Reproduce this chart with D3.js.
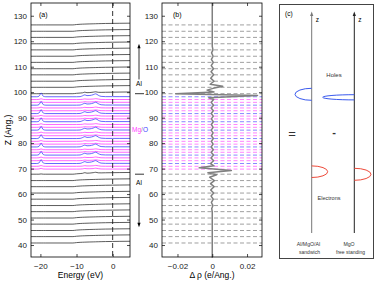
<!DOCTYPE html>
<html>
<head>
<meta charset="utf-8">
<script src="https://cdn.jsdelivr.net/npm/d3@7"></script>
<style>
body { margin: 0; background: #fff; }
text { font-family: "Liberation Sans", Arial, sans-serif; }
</style>
</head>
<body>
<svg id="chart" width="374" height="282"></svg>
<script>
// layer positions along z (Ang.)
var alTopZ = [126.4, 123.9, 121.5, 119.0, 116.6, 114.1, 111.7, 109.2, 106.8, 104.3, 101.9, 99.4]
var alBotZ = [67.8, 65.3, 62.9, 60.4, 58.0, 55.5, 53.1, 50.6, 48.2, 45.7, 43.3, 40.8]
var mgoZ = [98.2, 97.1, 96.0, 94.9, 93.8, 92.7, 91.6, 90.6, 89.5, 88.4, 87.3, 86.2, 85.1, 84.0,
  82.9, 81.8, 80.7, 79.6, 78.5, 77.4, 76.4, 75.3, 74.2, 73.1, 72.0, 70.9, 69.8]
var mgoSpecies = ["O","Mg","Mg","O","Mg","Mg","O","Mg","Mg","O","Mg","Mg","O","Mg","Mg",
  "O","Mg","Mg","O","Mg","Mg","O","Mg","Mg","O","Mg","Mg"]

// projected DOS, sampled on an energy grid (eV), height in Ang. of the plot
var dosE    = [-22.6, -21, -20.4, -19.8, -19.2, -18.5, -11, -10, -9, -8.3, -7.7, -7.1, -6.3, -5.4, -4.7, -4.0, -3.2, -2, 0, 2, 4.8]
var alDos   = [0, 0, 0, 0, 0, 0, 0, 0.15, 0.25, 0.3, 0.33, 0.36, 0.4, 0.43, 0.46, 0.49, 0.52, 0.56, 0.6, 0.64, 0.68]
var alIfDos = [0, 0, 0, 0.1, 0, 0, 0, 0.15, 0.25, 0.35, 0.6, 0.4, 0.45, 0.6, 0.75, 0.55, 0.52, 0.56, 0.6, 0.64, 0.68]
var oDos    = [0, 0, 0.2, 1.4, 0.2, 0, 0, 0, 0.05, 0.4, 0.75, 0.45, 0.5, 0.8, 1.15, 0.6, 0.15, 0.05, 0.05, 0.05, 0.05]
var mgDos   = [0, 0, 0.05, 0.3, 0.05, 0, 0, 0, 0.02, 0.1, 0.25, 0.15, 0.15, 0.2, 0.35, 0.2, 0.05, 0.02, 0.02, 0.02, 0.02]

// charge density difference along z
var drhoZ = [135, 118, 116.6, 115.4, 114.1, 112.9, 111.7, 110.4, 109.2, 108.0, 106.8, 105.5, 104.3, 103.1,
  102.3, 101.5, 100.8, 100.1, 99.4, 98.7, 97.8, 97.1, 96.0, 94.9, 93.8, 92.7, 91.6, 90.6, 89.5, 88.4,
  87.3, 86.2, 85.1, 84.0, 82.9, 81.8, 80.7, 79.6, 78.5, 77.4, 76.4, 75.3, 74.2, 73.1, 72.0, 71.1,
  70.3, 69.3, 68.4, 67.6, 66.6, 65.3, 64.1, 62.9, 61.6, 60.4, 59.2, 58.0, 56.7, 55.5, 54.3, 53, 35]
var drhoV = [0, 0, 0.0004, -0.0004, 0.0005, -0.0005, 0.0006, -0.0006, 0.0007, -0.0007, 0.0008, -0.0009, 0.001, -0.0012,
  0.006, 0.0005, -0.003, 0.001, -0.021, 0.026, -0.002, 0.0008, -0.0006, 0.0007, -0.0006, 0.0006, -0.0006, 0.0006, -0.0005, 0.0006,
  -0.0005, 0.0005, -0.0006, 0.0005, -0.0005, 0.0006, -0.0005, 0.0005, -0.0006, 0.0006, -0.0006, 0.0007, -0.0007, 0.0008, -0.001, 0.001,
  -0.0075, 0.011, -0.0025, 0.0025, -0.0015, 0.0012, -0.001, 0.001, -0.0009, 0.0008, -0.0007, 0.0006, -0.0005, 0.0004, -0.0003, 0, 0]

var yTicks = [40, 50, 60, 70, 80, 90, 100, 110, 120, 130]
var eTicks = [-20, -10, 0]
var rTicks = [-0.02, 0, 0.02]

var colO = "#4040ff", colMg = "#ff40ff", colAl = "#333"

var svg = d3.select("#chart")
svg.append("rect").attr("width", 374).attr("height", 282).attr("fill", "#fff")

var y = d3.scaleLinear().domain([35.3, 135]).range([257, 3])
var xa = d3.scaleLinear().domain([-22.6, 4.8]).range([31, 130])
var xb = d3.scaleLinear().domain([-0.0289, 0.0286]).range([162, 262])

function frame(x, xt, fmt) {
  var g = svg.append("g")
  var r = x.range(), t = y.range()
  g.append("g").attr("transform", "translate(" + r[0] + ",0)")
    .call(d3.axisLeft(y).tickValues(yTicks).tickSize(-3).tickPadding(4))
  g.append("g").attr("transform", "translate(" + r[1] + ",0)")
    .call(d3.axisRight(y).tickValues(yTicks).tickSize(-3).tickFormat(""))
  g.append("g").attr("transform", "translate(0," + t[0] + ")")
    .call(d3.axisBottom(x).tickValues(xt).tickSize(-3).tickPadding(6).tickFormat(fmt))
  g.append("g").attr("transform", "translate(0," + t[1] + ")")
    .call(d3.axisTop(x).tickValues(xt).tickSize(-3).tickFormat(""))
  g.selectAll(".domain").remove()
  g.selectAll(".tick line").attr("stroke-width", 0.7)
  g.selectAll("text").attr("font-size", 8).attr("font-family", "Liberation Sans, Arial, sans-serif").attr("fill", "#222")
  g.append("rect").attr("x", r[0]).attr("y", t[1]).attr("width", r[1] - r[0]).attr("height", t[0] - t[1])
    .attr("fill", "none").attr("stroke", "#000").attr("stroke-width", 0.8)
  return g
}

// ---- panel (a): layer DOS ----
var pa = svg.append("g")
var line = d3.line().curve(d3.curveMonotoneX)

function dosLine(z, prof, col) {
  var pts = dosE.map(function(e, i) { return [xa(e), y(z + prof[i])] })
  pa.append("path").attr("d", line(pts)).attr("fill", "none")
    .attr("stroke", col).attr("stroke-width", 0.8)
}
alTopZ.forEach(function(z, i) { dosLine(z, i == alTopZ.length - 1 ? alIfDos : alDos, colAl) })
mgoZ.forEach(function(z, i) {
  if (mgoSpecies[i] == "O") dosLine(z, oDos, colO)
  else dosLine(z, mgDos, colMg)
})
alBotZ.forEach(function(z, i) { dosLine(z, i == 0 ? alIfDos : alDos, colAl) })

pa.append("line").attr("x1", xa(0)).attr("x2", xa(0)).attr("y1", y.range()[1]).attr("y2", y.range()[0])
  .attr("stroke", "#000").attr("stroke-width", 0.8).attr("stroke-dasharray", "5,3")

frame(xa, eTicks, d3.format("d"))

// ---- panel (b): charge transfer ----
var pb = svg.append("g")
function dash(z, col) {
  pb.append("line").attr("x1", xb.range()[0]).attr("x2", xb.range()[1])
    .attr("y1", y(z)).attr("y2", y(z))
    .attr("stroke", col).attr("stroke-width", 0.8).attr("stroke-dasharray", "4,2.5")
}
alTopZ.forEach(function(z) { dash(z, "#888") })
alBotZ.forEach(function(z) { dash(z, "#888") })
mgoZ.forEach(function(z, i) { dash(z, mgoSpecies[i] == "O" ? "#6a6aff" : "#ff66ff") })

var rhoPts = drhoZ.map(function(z, i) { return [xb(drhoV[i]), y(z)] })
pb.append("path").attr("d", d3.line()(rhoPts)).attr("fill", "none")
  .attr("stroke", "#808080").attr("stroke-width", 1.5).attr("stroke-linejoin", "round")

frame(xb, rTicks, function(d) { return d == 0 ? "0" : d3.format(".2f")(d).replace("-", "\u2212") })

// axis titles and panel tags
svg.append("text").attr("x", 80.5).attr("y", 278).attr("text-anchor", "middle").attr("font-size", 8.5).text("Energy (eV)")
svg.append("text").attr("x", 212).attr("y", 278).attr("text-anchor", "middle").attr("font-size", 8.5).text("\u0394 \u03c1 (e/Ang.)")
svg.append("text").attr("transform", "translate(11,130) rotate(-90)").attr("text-anchor", "middle")
  .attr("font-size", 8.5).text("Z (Ang.)")
svg.append("text").attr("x", 39).attr("y", 17).attr("font-size", 7).text("(a)")
svg.append("text").attr("x", 173).attr("y", 17).attr("font-size", 7).text("(b)")

// region markers between panels
var mid = svg.append("g")
mid.append("line").attr("x1", 139).attr("x2", 139).attr("y1", y(105)).attr("y2", y(117.5)).attr("stroke", "#000").attr("stroke-width", 0.8)
mid.append("path").attr("d", "M139," + y(119) + "l-1.6,4.5h3.2z").attr("fill", "#000")
mid.append("text").attr("x", 139).attr("y", y(102.4)).attr("text-anchor", "middle").attr("font-size", 6.5).text("Al")
mid.append("line").attr("x1", 135).attr("x2", 144).attr("y1", y(99.4)).attr("y2", y(99.4)).attr("stroke", "#000").attr("stroke-width", 0.8)
var mo = mid.append("text").attr("x", 140).attr("y", y(84.5)).attr("text-anchor", "middle").attr("font-size", 6.5)
mo.append("tspan").attr("fill", colMg).text("Mg")
mo.append("tspan").attr("fill", "#888").text("/")
mo.append("tspan").attr("fill", colO).text("O")
mid.append("line").attr("x1", 135).attr("x2", 144).attr("y1", y(67.8)).attr("y2", y(67.8)).attr("stroke", "#000").attr("stroke-width", 0.8)
mid.append("text").attr("x", 139).attr("y", y(63.5)).attr("text-anchor", "middle").attr("font-size", 6.5).text("Al")
mid.append("line").attr("x1", 139).attr("x2", 139).attr("y1", y(60)).attr("y2", y(48.5)).attr("stroke", "#000").attr("stroke-width", 0.8)
mid.append("path").attr("d", "M139," + y(47) + "l-1.6,-4.5h3.2z").attr("fill", "#000")

// ---- panel (c): schematic ----
var pc = svg.append("g")
pc.append("rect").attr("x", 279.5).attr("y", 4.5).attr("width", 94).attr("height", 254)
  .attr("fill", "none").attr("stroke", "#444").attr("stroke-width", 1)
pc.append("text").attr("x", 285).attr("y", 16).attr("font-size", 6.5).text("(c)")
var axesX = [311.7, 354.3]
axesX.forEach(function(ax, i) {
  pc.append("line").attr("x1", ax).attr("x2", ax).attr("y1", 233).attr("y2", 15)
    .attr("stroke", i == 0 ? "#777" : "#222").attr("stroke-width", 1)
  pc.append("path").attr("d", "M" + ax + ",11.5l-1.6,4.5h3.2z").attr("fill", i == 0 ? "#777" : "#222")
  pc.append("text").attr("x", ax + 4).attr("y", 22).attr("font-size", 6.5).text("z")
})
function halfEllipse(cx, cy, rx, ry, left, col) {
  pc.append("path").attr("d", "M" + cx + "," + (cy - ry) + "A" + rx + "," + ry + " 0 0 " + (left ? 0 : 1) + " " + cx + "," + (cy + ry))
    .attr("fill", "none").attr("stroke", col).attr("stroke-width", 1)
}
halfEllipse(311.7, 94.3, 16.7, 6, true, "#3a5aee")
halfEllipse(354.3, 97.3, 31.6, 2.6, true, "#3a5aee")
halfEllipse(311.7, 171.7, 16, 5.8, false, "#ee4a3a")
halfEllipse(354.3, 174.3, 16.7, 6, false, "#ee4a3a")
pc.append("text").attr("x", 334).attr("y", 77).attr("text-anchor", "middle").attr("font-size", 6).attr("fill", "#333").text("Holes")
pc.append("text").attr("x", 329).attr("y", 200).attr("text-anchor", "middle").attr("font-size", 5.5).attr("fill", "#333").text("Electrons")
pc.append("text").attr("x", 292).attr("y", 137.5).attr("text-anchor", "middle").attr("font-size", 13).attr("fill", "#333").text("=")
pc.append("text").attr("x", 334).attr("y", 136).attr("text-anchor", "middle").attr("font-size", 11).attr("font-weight", "bold").attr("fill", "#333").text("-")
pc.append("text").attr("x", 308.5).attr("y", 246).attr("text-anchor", "middle").attr("font-size", 5.2).attr("fill", "#333").text("Al/MgO/Al")
pc.append("text").attr("x", 309.5).attr("y", 254).attr("text-anchor", "middle").attr("font-size", 5).attr("fill", "#333").text("sandwich")
pc.append("text").attr("x", 349).attr("y", 246).attr("text-anchor", "middle").attr("font-size", 5.2).attr("fill", "#333").text("MgO")
pc.append("text").attr("x", 350.5).attr("y", 254).attr("text-anchor", "middle").attr("font-size", 5).attr("fill", "#333").text("free standing")
</script>
</body>
</html>
